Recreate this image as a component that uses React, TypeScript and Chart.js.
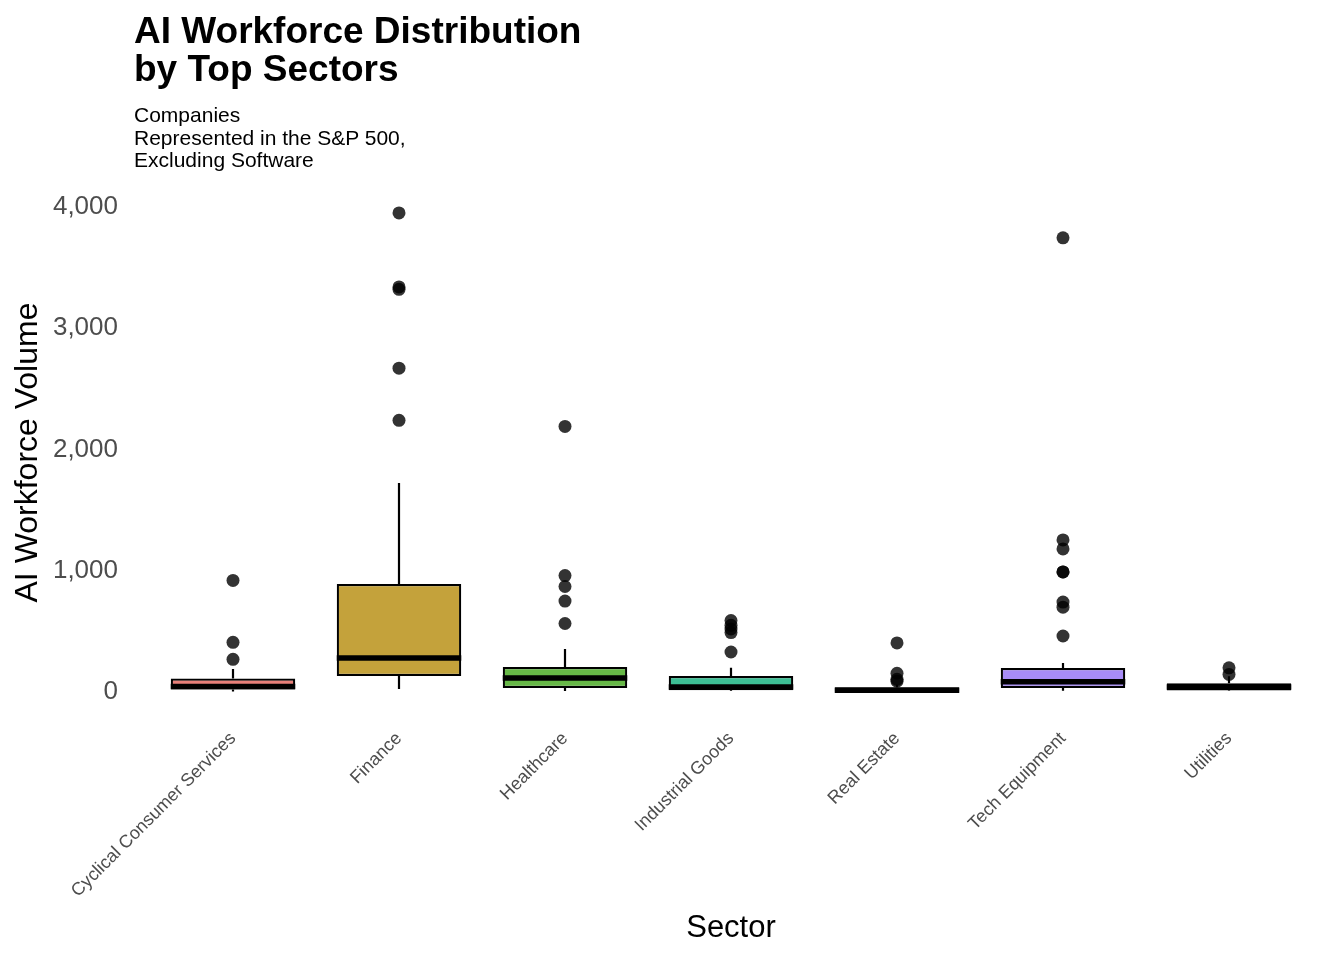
import { useEffect, useRef } from 'react';
import { Chart, registerables } from 'chart.js';

Chart.register(...registerables);

// values
const sectors = [
  'Cyclical Consumer Services',
  'Finance',
  'Healthcare',
  'Industrial Goods',
  'Real Estate',
  'Tech Equipment',
  'Utilities',
];
const whiskerLow = [5, 25, 8, 8, 0, 10, 8];
const q1 = [20, 132, 33, 15, 3, 33, 12];
const median = [45, 280, 115, 42, 15, 85, 42];
const q3 = [112, 890, 206, 132, 40, 198, 72];
const whiskerHigh = [190, 1724, 355, 200, 60, 240, 130];
const outliers = [
  [920, 410, 270],
  [3950, 3340, 3320, 2670, 2240],
  [2190, 960, 870, 750, 565],
  [590, 550, 520, 490, 330],
  [405, 155, 105, 90],
  [3745, 1254, 1180, 990, 990, 742, 700, 462],
  [200, 145],
];
const boxColors = ['#E8807A', '#C4A23B', '#66B846', '#3DBE94', '#33B8E8', '#A88CF8', '#F46AD4'];
const yTicks = [0, 1000, 2000, 3000, 4000];

const FONT = "'Liberation Sans', Arial, Helvetica, sans-serif";

// whiskers behind the boxes, medians on top of them
const boxParts = {
  id: 'boxParts',
  beforeDatasetsDraw(chart: any) {
    const { ctx, scales } = chart;
    ctx.save();
    ctx.strokeStyle = '#000';
    ctx.lineWidth = 2.2;
    sectors.forEach((_, i) => {
      const x = scales.x.getPixelForValue(i);
      ctx.beginPath();
      ctx.moveTo(x, scales.y.getPixelForValue(whiskerLow[i]));
      ctx.lineTo(x, scales.y.getPixelForValue(q1[i]));
      ctx.moveTo(x, scales.y.getPixelForValue(q3[i]));
      ctx.lineTo(x, scales.y.getPixelForValue(whiskerHigh[i]));
      ctx.stroke();
    });
    ctx.restore();
  },
  afterDatasetDraw(chart: any, args: any) {
    if (args.index !== 0) return;
    const { ctx, scales } = chart;
    const bars = chart.getDatasetMeta(0).data;
    ctx.save();
    ctx.strokeStyle = '#000';
    ctx.lineWidth = 5.5;
    bars.forEach((bar: any, i: number) => {
      const y = scales.y.getPixelForValue(median[i]);
      ctx.beginPath();
      ctx.moveTo(bar.x - bar.width / 2, y);
      ctx.lineTo(bar.x + bar.width / 2, y);
      ctx.stroke();
    });
    ctx.restore();
  },
};

function BoxChart() {
  const canvasRef = useRef<HTMLCanvasElement>(null);

  useEffect(() => {
    if (!canvasRef.current) return;
    Chart.defaults.font.family = FONT;

    const chart = new Chart(canvasRef.current, {
      type: 'bar',
      data: {
        labels: sectors,
        datasets: [
          {
            type: 'bar',
            data: sectors.map((_, i) => [q1[i], q3[i]]),
            backgroundColor: boxColors,
            borderColor: '#000',
            borderWidth: 2.2,
            borderSkipped: false,
            barPercentage: 0.75,
            categoryPercentage: 1,
            order: 2,
          } as any,
          {
            type: 'line',
            data: outliers.flatMap((vals, i) => vals.map((v) => ({ x: sectors[i], y: v }))),
            showLine: false,
            pointRadius: 6.5,
            pointBackgroundColor: 'rgba(0,0,0,0.8)',
            pointBorderWidth: 0,
            order: 1,
          } as any,
        ],
      },
      options: {
        animation: false,
        responsive: true,
        maintainAspectRatio: false,
        events: [],
        layout: { padding: { top: 189, right: 32, left: 0, bottom: 0 } },
        plugins: {
          legend: { display: false },
          tooltip: { enabled: false },
        },
        scales: {
          x: {
            type: 'category',
            offset: true,
            grid: { display: false, drawTicks: false },
            border: { display: false },
            afterFit: (s: any) => {
              s.height = 244;
            },
            ticks: {
              autoSkip: false,
              minRotation: 45,
              maxRotation: 45,
              padding: 12,
              color: '#4D4D4D',
              font: { size: 18, family: FONT },
            },
            title: {
              display: true,
              text: 'Sector',
              color: '#000',
              font: { size: 31, family: FONT },
              padding: { top: 0, bottom: 13 },
            },
          },
          y: {
            type: 'linear',
            min: -197.5,
            max: 4147.5,
            grid: { display: false, drawTicks: false },
            border: { display: false },
            afterBuildTicks: (s: any) => {
              s.ticks = yTicks.map((v) => ({ value: v }));
            },
            afterFit: (s: any) => {
              s.width = 150;
            },
            ticks: {
              padding: 32,
              color: '#4D4D4D',
              font: { size: 26, family: FONT },
              callback: (v: any) => Number(v).toLocaleString('en-US'),
            },
            title: {
              display: true,
              text: 'AI Workforce Volume',
              color: '#000',
              font: { size: 32, family: FONT },
              padding: { top: 9, bottom: 0 },
            },
          },
        },
      },
      plugins: [boxParts],
    });

    return () => chart.destroy();
  }, []);

  return <canvas ref={canvasRef} />;
}

export default function App() {
  return (
    <div
      style={{
        position: 'absolute',
        left: 0,
        top: 0,
        width: 1344,
        height: 960,
        background: '#fff',
        fontFamily: FONT,
      }}
    >
      <div style={{ position: 'absolute', inset: 0 }}>
        <BoxChart />
      </div>
      <div
        style={{
          position: 'absolute',
          left: 134,
          top: 12,
          fontSize: 37,
          lineHeight: '38px',
          fontWeight: 'bold',
          color: '#000',
        }}
      >
        AI Workforce Distribution
        <br />
        by Top Sectors
      </div>
      <div
        style={{
          position: 'absolute',
          left: 134,
          top: 104,
          fontSize: 21,
          lineHeight: '22.5px',
          color: '#000',
        }}
      >
        Companies
        <br />
        Represented in the S&amp;P 500,
        <br />
        Excluding Software
      </div>
    </div>
  );
}
